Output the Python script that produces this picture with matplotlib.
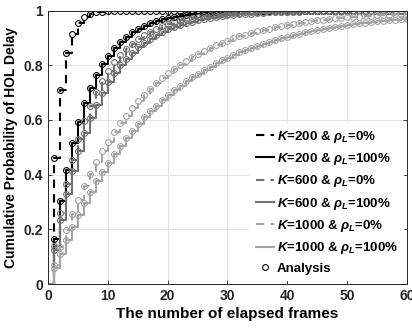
import matplotlib
matplotlib.use('Agg')
import matplotlib.pyplot as plt
from matplotlib.lines import Line2D

# Frames transcurridos (eje x)
marcos = list(range(1, 61))

# Probabilidad acumulada
k200_r0 = [0.460, 0.708, 0.843, 0.915, 0.954, 0.975, 0.987, 0.993, 0.996, 0.998,
           0.999, 0.999, 1.000, 1.000, 1.000, 1.000, 1.000, 1.000, 1.000, 1.000,
           1.000, 1.000, 1.000, 1.000, 1.000, 1.000, 1.000, 1.000, 1.000, 1.000,
           1.000, 1.000, 1.000, 1.000, 1.000, 1.000, 1.000, 1.000, 1.000, 1.000,
           1.000, 1.000, 1.000, 1.000, 1.000, 1.000, 1.000, 1.000, 1.000, 1.000,
           1.000, 1.000, 1.000, 1.000, 1.000, 1.000, 1.000, 1.000, 1.000, 1.000]
k200_r100 = [0.165, 0.303, 0.418, 0.514, 0.594, 0.661, 0.717, 0.764, 0.803, 0.835,
             0.862, 0.885, 0.904, 0.920, 0.933, 0.944, 0.953, 0.961, 0.968, 0.973,
             0.977, 0.981, 0.984, 0.987, 0.989, 0.991, 0.992, 0.994, 0.995, 0.996,
             0.996, 0.997, 0.997, 0.998, 0.998, 0.998, 0.999, 0.999, 0.999, 0.999,
             0.999, 0.999, 1.000, 1.000, 1.000, 1.000, 1.000, 1.000, 1.000, 1.000,
             1.000, 1.000, 1.000, 1.000, 1.000, 1.000, 1.000, 1.000, 1.000, 1.000]
k600_r0 = [0.140, 0.260, 0.364, 0.453, 0.530, 0.595, 0.652, 0.701, 0.743, 0.779,
           0.810, 0.836, 0.859, 0.879, 0.896, 0.910, 0.923, 0.934, 0.943, 0.951,
           0.958, 0.964, 0.969, 0.973, 0.977, 0.980, 0.983, 0.985, 0.987, 0.989,
           0.991, 0.992, 0.993, 0.994, 0.995, 0.996, 0.996, 0.997, 0.997, 0.998,
           0.998, 0.998, 0.998, 0.999, 0.999, 0.999, 0.999, 0.999, 0.999, 0.999,
           1.000, 1.000, 1.000, 1.000, 1.000, 1.000, 1.000, 1.000, 1.000, 1.000]
k600_r100 = [0.125, 0.234, 0.330, 0.414, 0.487, 0.551, 0.607, 0.656, 0.699, 0.737,
             0.770, 0.799, 0.824, 0.846, 0.865, 0.882, 0.897, 0.910, 0.921, 0.931,
             0.939, 0.947, 0.954, 0.959, 0.964, 0.969, 0.973, 0.976, 0.979, 0.982,
             0.984, 0.986, 0.988, 0.989, 0.991, 0.992, 0.993, 0.994, 0.995, 0.995,
             0.996, 0.996, 0.997, 0.997, 0.998, 0.998, 0.998, 0.998, 0.999, 0.999,
             0.999, 0.999, 0.999, 0.999, 0.999, 0.999, 1.000, 1.000, 1.000, 1.000]
k1000_r0 = [0.071, 0.137, 0.198, 0.255, 0.308, 0.357, 0.403, 0.445, 0.485, 0.521,
            0.555, 0.587, 0.616, 0.643, 0.669, 0.692, 0.714, 0.734, 0.753, 0.771,
            0.787, 0.802, 0.816, 0.829, 0.841, 0.853, 0.863, 0.873, 0.882, 0.890,
            0.898, 0.905, 0.912, 0.918, 0.924, 0.929, 0.934, 0.939, 0.943, 0.947,
            0.951, 0.955, 0.958, 0.961, 0.964, 0.966, 0.969, 0.971, 0.973, 0.975,
            0.977, 0.978, 0.980, 0.981, 0.983, 0.984, 0.985, 0.986, 0.987, 0.988]
k1000_r100 = [0.057, 0.111, 0.161, 0.209, 0.254, 0.297, 0.337, 0.375, 0.410, 0.444,
              0.476, 0.506, 0.534, 0.560, 0.585, 0.609, 0.631, 0.652, 0.672, 0.691,
              0.708, 0.725, 0.741, 0.756, 0.769, 0.783, 0.795, 0.807, 0.818, 0.828,
              0.838, 0.847, 0.856, 0.864, 0.872, 0.879, 0.886, 0.893, 0.899, 0.904,
              0.910, 0.915, 0.920, 0.924, 0.929, 0.933, 0.937, 0.940, 0.944, 0.947,
              0.950, 0.953, 0.955, 0.958, 0.960, 0.963, 0.965, 0.967, 0.969, 0.970]

etiquetas = [r'$\mathbfit{K}$=200 & $\rho_{\mathbfit{L}}$=0%',
             r'$\mathbfit{K}$=200 & $\rho_{\mathbfit{L}}$=100%',
             r'$\mathbfit{K}$=600 & $\rho_{\mathbfit{L}}$=0%',
             r'$\mathbfit{K}$=600 & $\rho_{\mathbfit{L}}$=100%',
             r'$\mathbfit{K}$=1000 & $\rho_{\mathbfit{L}}$=0%',
             r'$\mathbfit{K}$=1000 & $\rho_{\mathbfit{L}}$=100%']
series = [k200_r0, k200_r100, k600_r0, k600_r100, k1000_r0, k1000_r100]
colores = ['black', 'black', '#707070', '#707070', '#a4a4a4', '#a4a4a4']
estilos = [(0, (4, 3)), '-', (0, (4, 3)), '-', (0, (4, 3)), '-']

plt.rcParams['font.family'] = 'Liberation Sans'
plt.rcParams['font.weight'] = 'bold'
plt.rcParams['mathtext.fontset'] = 'custom'
plt.rcParams['mathtext.rm'] = 'Liberation Sans:bold'
plt.rcParams['mathtext.it'] = 'Liberation Sans:italic'
plt.rcParams['mathtext.bf'] = 'Liberation Sans:bold'
plt.rcParams['mathtext.bfit'] = 'Liberation Sans:bold:italic'

fig = plt.figure(figsize=(4.12, 3.29), dpi=100)
ax = fig.add_axes([48 / 412, 1 - 284 / 329, 359 / 412, 273.5 / 329])

# Curvas de simulacion (escalones) y analisis (circulos)
for datos, color, estilo, etiqueta in zip(series, colores, estilos, etiquetas):
    ax.step([0] + marcos, [0] + datos, where='post', color=color,
            linestyle=estilo, linewidth=1.5, label=etiqueta)
    ax.plot(marcos, datos, 'o', mfc='none', mec=color, ms=4.2, mew=0.8)

ax.set_xlim(0, 60)
ax.set_ylim(0, 1)
ax.set_xticks(range(0, 61, 10))
ax.set_yticks([0, 0.2, 0.4, 0.6, 0.8, 1])
ax.set_yticklabels(['0', '0.2', '0.4', '0.6', '0.8', '1'])
ax.tick_params(direction='in', length=3, top=True, right=True,
               colors='#262626', labelsize=10, width=0.6)
ax.grid(True, color='#e3e3e3', linewidth=0.7)
ax.set_axisbelow(True)
for lado in ax.spines.values():
    lado.set_color('#262626')
    lado.set_linewidth(0.7)

ax.set_xlabel('The number of elapsed frames', fontsize=11, fontweight='bold',
              labelpad=3)
ax.set_ylabel('Cumulative Probability of HOL Delay', fontsize=10,
              fontweight='bold', labelpad=4)

manijas, textos = ax.get_legend_handles_labels()
manijas.append(Line2D([], [], linestyle='none', marker='o', mfc='none',
                      mec='black', ms=4.2, mew=0.8))
textos.append('Analysis')
leyenda = ax.legend(manijas, textos, loc='lower right', fontsize=9.5,
                    handlelength=1.4, handletextpad=0.2, labelspacing=0.48,
                    frameon=True, fancybox=False, edgecolor='white',
                    framealpha=1, borderaxespad=0.3)

fig.savefig('out.png', dpi=100)
